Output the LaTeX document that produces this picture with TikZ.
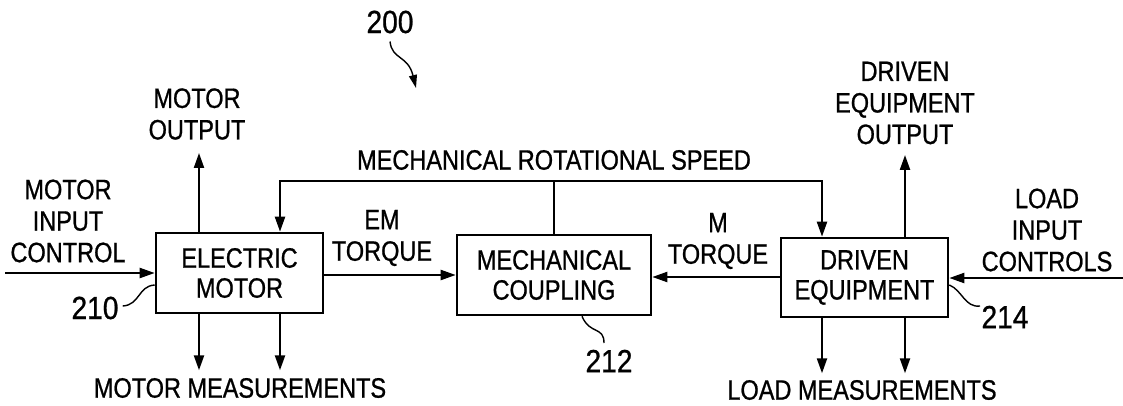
\documentclass[tikz,border=0pt]{standalone}
\usepackage{fontspec}
\setmainfont[FakeStretch=0.84, FakeBold=0.8]{Liberation Sans}
\newfontfamily\numfont[FakeStretch=0.88, FakeBold=0.8]{Liberation Sans}
\usetikzlibrary{arrows.meta}

\begin{document}
\begin{tikzpicture}[
    x=1pt, y=-1pt,
    block/.style={draw, line width=2.6pt, align=center, inner sep=0pt, font=\fontsize{28}{30}\selectfont},
    lbl/.style={align=center, inner sep=0pt, font=\fontsize{28}{31.5}\selectfont},
    refnum/.style={inner sep=0pt, font=\numfont\fontsize{32}{34}\selectfont},
    arr/.style={line width=2.2pt, -{Triangle[length=15pt, width=10pt]}},
    wire/.style={line width=2.2pt},
    tag/.style={line width=1.4pt}
]
\useasboundingbox (0,0) rectangle (1123,406);

% Blocks
\node[block, minimum width=167pt, minimum height=80pt] (em) at (239.5, 273) {ELECTRIC\\MOTOR};
\node[block, minimum width=194pt, minimum height=80pt] (mc) at (554, 275) {MECHANICAL\\COUPLING};
\node[block, minimum width=167pt, minimum height=79pt] (de) at (864.5, 277.5) {DRIVEN\\EQUIPMENT};

% Labels
\node[lbl] (minc) at (68, 221) {MOTOR\\INPUT\\CONTROL};
\node[lbl] (mout) at (197, 114) {MOTOR\\OUTPUT};
\node[lbl] (emt) at (382, 238) {EM\\TORQUE};
\node[lbl] (spd) at (554, 160) {MECHANICAL ROTATIONAL SPEED};
\node[lbl] (mt) at (718, 241) {M\\TORQUE};
\node[lbl] (dout) at (905, 103) {DRIVEN\\EQUIPMENT\\OUTPUT};
\node[lbl] (linc) at (1047, 230) {LOAD\\INPUT\\CONTROLS};
\node[lbl] (mmeas) at (240, 388) {MOTOR MEASUREMENTS};
\node[lbl] (lmeas) at (862, 390) {LOAD MEASUREMENTS};

% Reference numerals
\node[refnum] (n200) at (390, 22) {200};
\node[refnum] (n210) at (95, 308) {210};
\node[refnum] (n212) at (609, 361) {212};
\node[refnum] (n214) at (1005, 317) {214};

% Free ends
\coordinate (inL) at (5, 273);
\coordinate (inR) at (1123, 278);
\coordinate (spdL) at (280, 181);
\coordinate (spdR) at (822, 181);
\coordinate (mupT) at (199, 153);
\coordinate (dupT) at (905, 155);

% Signal paths
\draw[arr] (inL) -- (em.west |- inL);
\draw[arr] (em.east |- 0,275) -- (mc.west |- 0,275);
\draw[arr] (de.west |- 0,277) -- (mc.east |- 0,277);
\draw[arr] (inR) -- (de.east |- inR);
\draw[arr] (em.north -| mupT) -- (mupT);
\draw[arr] (de.north -| dupT) -- (dupT);
\draw[wire] (mc.north) -- (mc.north |- spdL);
\draw[arr] (mc.north |- spdL) -| (em.north -| spdL);
\draw[arr] (mc.north |- spdL) -| (de.north -| spdR);
\draw[arr] (em.south -| mupT) -- ++(0, 56);
\draw[arr] (em.south -| spdL) -- ++(0, 56);
\draw[arr] (de.south -| spdR) -- ++(0, 55);
\draw[arr] (de.south -| dupT) -- ++(0, 55);

% Leader lines
\draw[tag, -{Triangle[length=13pt, width=8pt]}] (n200.south) ++(0,8) .. controls (392, 60) and (408, 55) .. (416, 88);
\draw[tag] (n210.east) ++(4,-2) .. controls (140, 305) and (138, 286) .. (em.west |- 0,285);
\draw[tag] (mc.south -| 582,0) .. controls (590, 335) and (604, 326) .. (604, 343);
\draw[tag] (de.east |- 0,285) .. controls (962, 290) and (965, 308) .. (980, 306);
\end{tikzpicture}
\end{document}
